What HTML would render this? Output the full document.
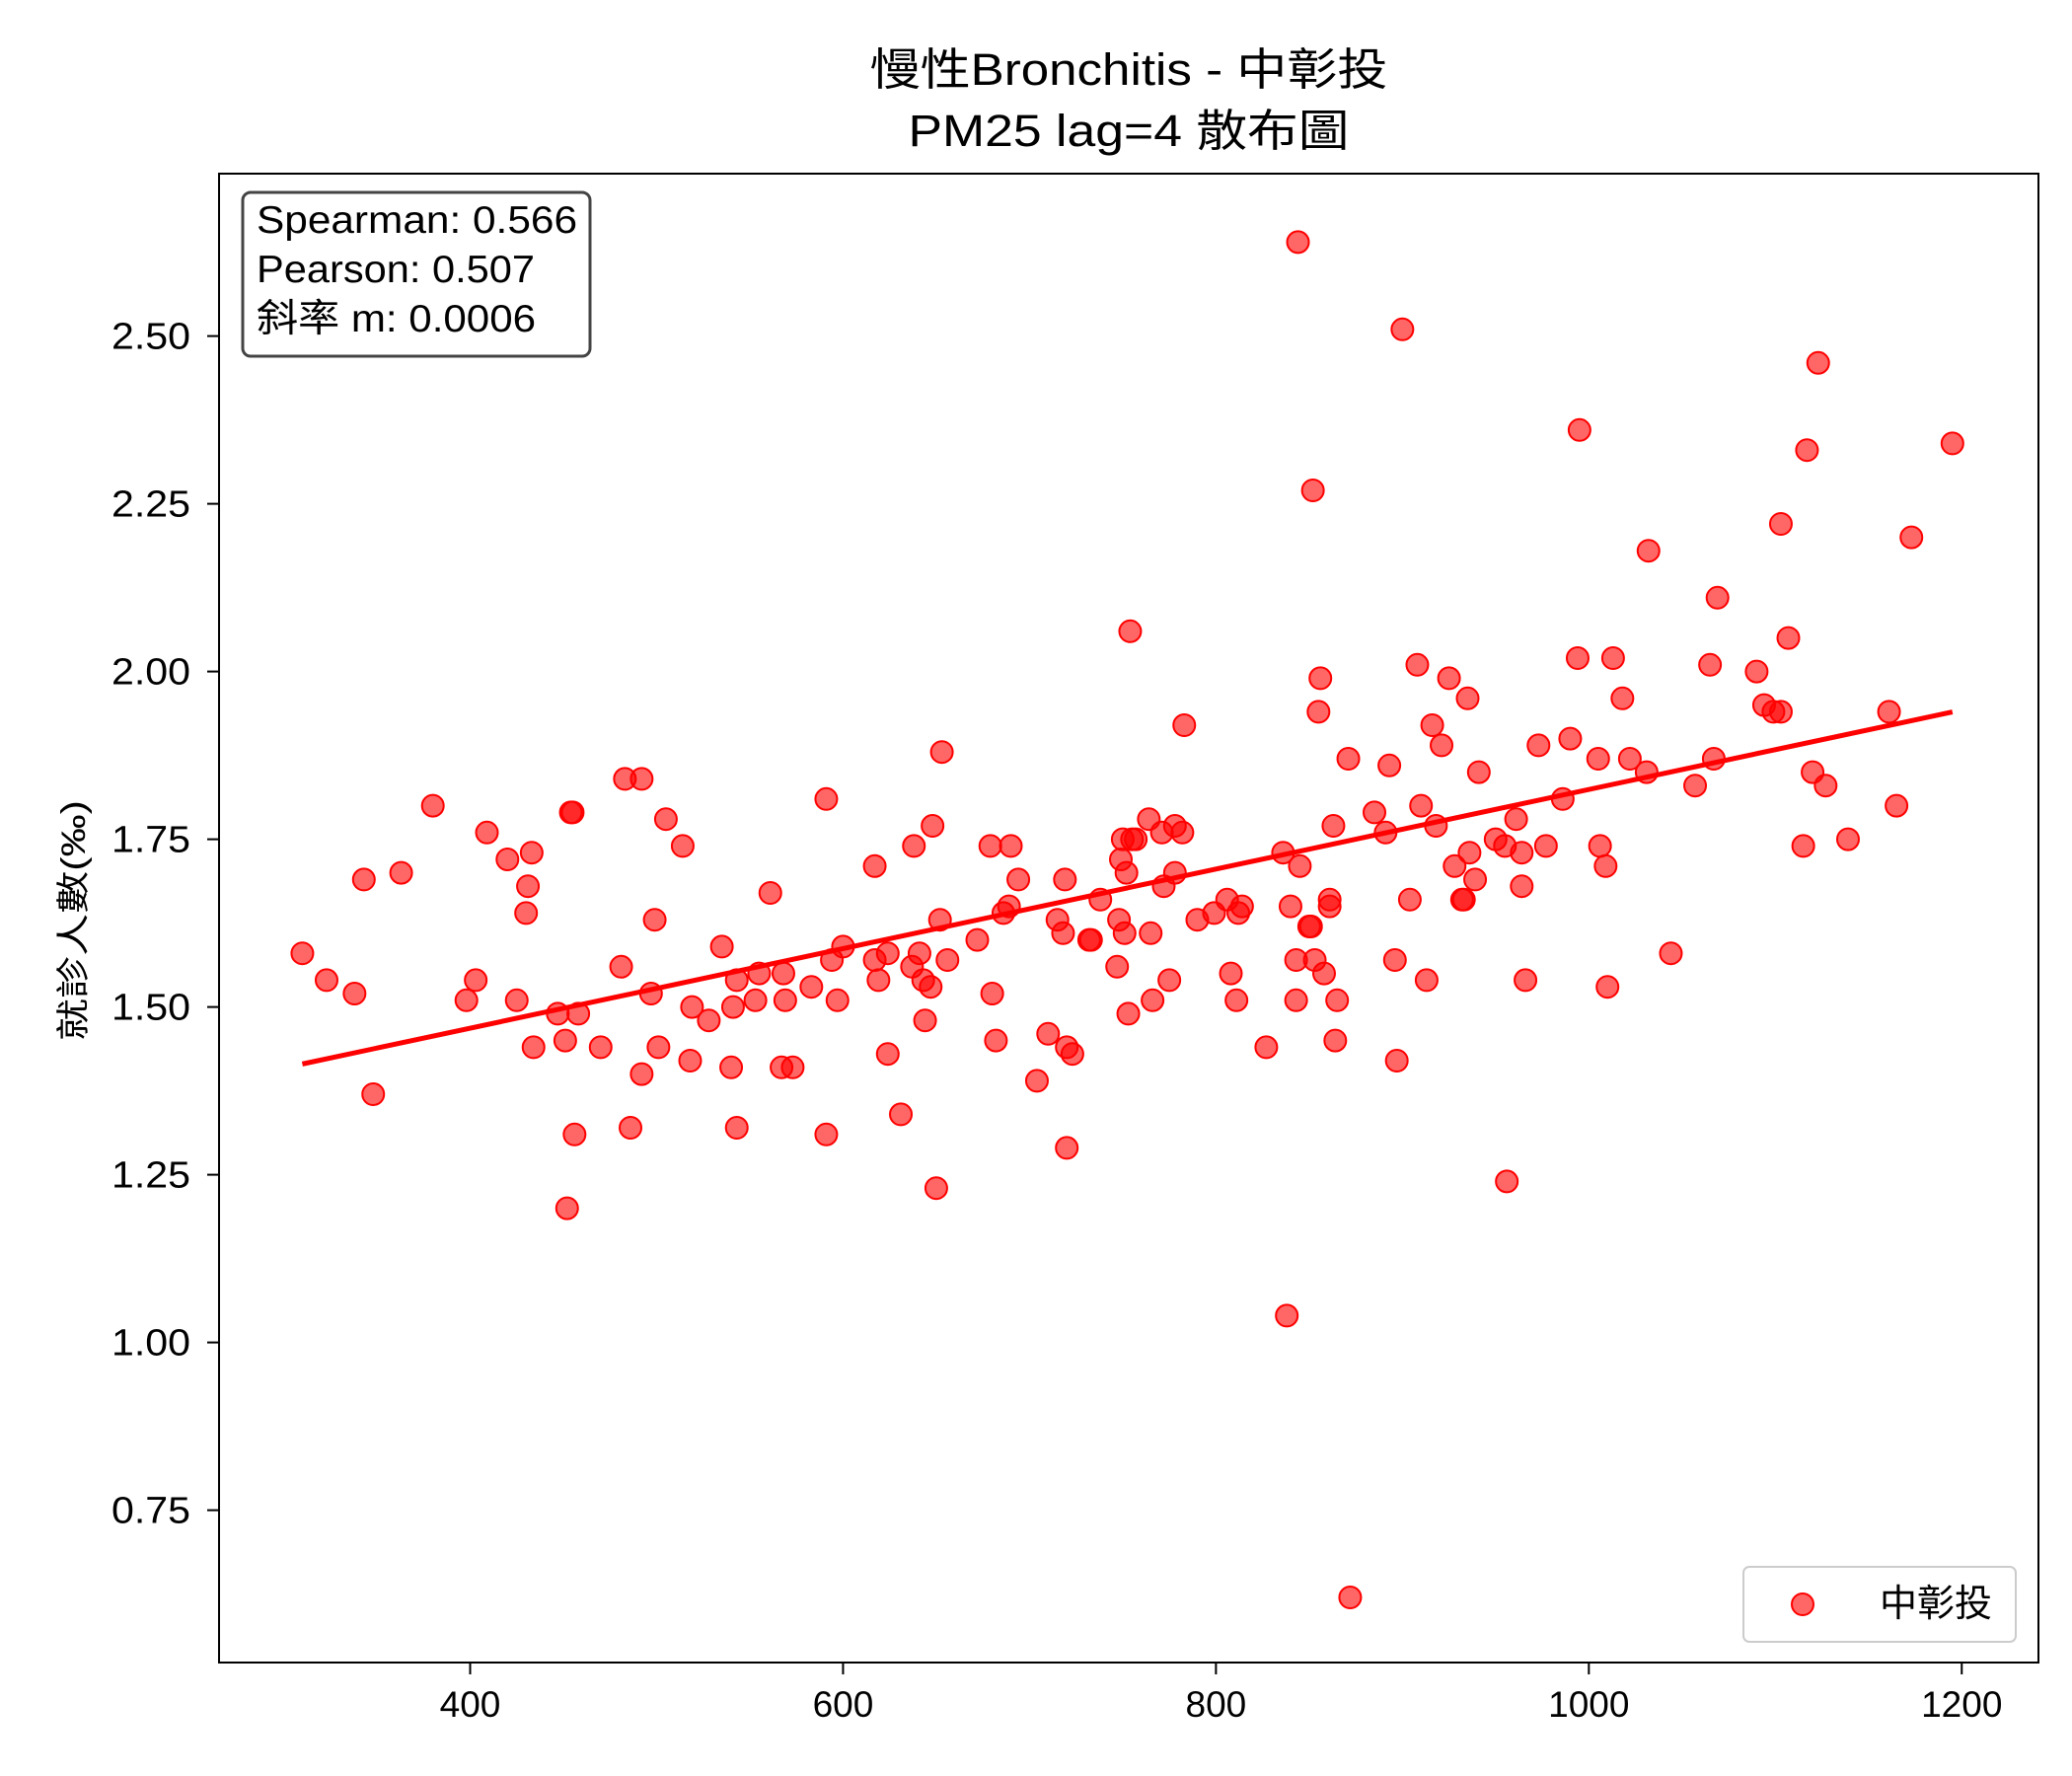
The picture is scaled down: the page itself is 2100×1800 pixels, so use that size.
<!DOCTYPE html>
<html><head><meta charset="utf-8"><style>
body{margin:0;background:#fff}
svg{display:block;font-family:"Liberation Sans","Noto Sans CJK TC",sans-serif}
</style></head><body>
<svg id="chart" width="2100" height="1800" viewBox="0 0 2100 1800" xmlns="http://www.w3.org/2000/svg">
<rect width="2100" height="1800" fill="#fff"/>
<text x="1144" y="86" font-size="45" text-anchor="middle" textLength="525" lengthAdjust="spacingAndGlyphs">慢性Bronchitis - 中彰投</text>
<text x="1144" y="148" font-size="45" text-anchor="middle" textLength="447" lengthAdjust="spacingAndGlyphs">PM25 lag=4 散布圖</text>
<g id="ticks"></g>
<g id="points"></g>
<line id="fit" stroke="#ff0000" stroke-width="5"/>
<rect x="222" y="176" width="1844" height="1509" fill="none" stroke="#000" stroke-width="2"/>
<text transform="translate(86,933) rotate(-90)" font-size="34" text-anchor="middle" textLength="244" lengthAdjust="spacingAndGlyphs">就診人數(‰)</text>
<g>
<rect x="246" y="195" width="352" height="166" rx="8" fill="#fff" stroke="#444" stroke-width="3"/>
<text x="260" y="236" font-size="39" textLength="325" lengthAdjust="spacingAndGlyphs">Spearman: 0.566</text>
<text x="260" y="286" font-size="39" textLength="282" lengthAdjust="spacingAndGlyphs">Pearson: 0.507</text>
<text x="260" y="336" font-size="39" textLength="283" lengthAdjust="spacingAndGlyphs">斜率 m: 0.0006</text>
</g>
<g>
<rect x="1767" y="1588" width="276" height="76" rx="6" fill="#fff" stroke="#ccc" stroke-width="2"/>
<circle cx="1827" cy="1626" r="11" fill="rgba(255,0,0,0.6)" stroke="#ff0000" stroke-width="2"/>
<text x="1905" y="1638" font-size="38">中彰投</text>
</g>
</svg>
<script>
const xs=[310,323,338,343,348,363,380,398,403,409,420,425,430,431,433,434,447,451,452,454,455,456,458,470,481,483,486,492,492,497,499,501,505,514,518,519,528,535,540,541,543,543,553,555,561,567,568,569,573,583,591,591,594,597,600,617,617,619,624,624,631,637,638,641,643,644,647,648,650,652,653,656,672,679,680,682,686,689,690,694,704,710,715,718,719,720,720,723,732,733,738,747,748,749,750,751,752,753,754,755,757,764,765,766,771,772,775,778,778,782,783,790,799,806,808,811,812,814,827,836,838,840,843,843,844,845,850,851,852,853,855,856,858,861,861,863,864,865,871,872,885,891,893,896,897,900,904,908,910,913,916,918,921,925,928,932,933,935,936,939,941,950,955,956,961,964,964,966,973,977,986,990,994,995,1005,1006,1009,1010,1013,1018,1022,1031,1032,1044,1057,1065,1067,1069,1090,1094,1099,1103,1103,1107,1115,1117,1120,1123,1127,1139,1161,1165,1173,1195];
const ys=[1.58,1.54,1.52,1.69,1.37,1.70,1.80,1.51,1.54,1.76,1.72,1.51,1.64,1.68,1.73,1.44,1.49,1.45,1.20,1.79,1.79,1.31,1.49,1.44,1.56,1.84,1.32,1.84,1.40,1.52,1.63,1.44,1.78,1.74,1.42,1.50,1.48,1.59,1.41,1.50,1.32,1.54,1.51,1.55,1.67,1.41,1.55,1.51,1.41,1.53,1.81,1.31,1.57,1.51,1.59,1.71,1.57,1.54,1.43,1.58,1.34,1.56,1.74,1.58,1.54,1.48,1.53,1.77,1.23,1.63,1.88,1.57,1.60,1.74,1.52,1.45,1.64,1.65,1.74,1.69,1.39,1.46,1.63,1.61,1.69,1.29,1.44,1.43,1.60,1.60,1.66,1.56,1.63,1.72,1.75,1.61,1.70,1.49,2.06,1.75,1.75,1.78,1.61,1.51,1.76,1.68,1.54,1.70,1.77,1.76,1.92,1.63,1.64,1.66,1.55,1.51,1.64,1.65,1.44,1.73,1.04,1.65,1.51,1.57,2.64,1.71,1.62,1.62,2.27,1.57,1.94,1.99,1.55,1.65,1.66,1.77,1.45,1.51,1.87,0.62,1.79,1.76,1.86,1.57,1.42,2.51,1.66,2.01,1.80,1.54,1.92,1.77,1.89,1.99,1.71,1.66,1.66,1.96,1.73,1.69,1.85,1.75,1.74,1.24,1.78,1.68,1.73,1.54,1.89,1.74,1.81,1.90,2.02,2.36,1.87,1.74,1.71,1.53,2.02,1.96,1.87,1.85,2.18,1.58,1.83,2.01,1.87,2.11,2.00,1.95,1.94,1.94,2.22,2.05,1.74,2.33,1.85,2.46,1.83,1.75,1.94,1.80,2.20,2.34];
const xTicks=[400,600,800,1000,1200];
const yTicks=[0.75,1.00,1.25,1.50,1.75,2.00,2.25,2.50];
const fitX=[310,1195];
const fitSlope=0.000593, fitIntercept=1.2312;
const X=v=>476.5+(v-400)*1.8897;
const Y=v=>340.6-(v-2.5)*680;
const NS='http://www.w3.org/2000/svg';
const tg=document.getElementById('ticks'), pg=document.getElementById('points');
function mk(t,a,p){const e=document.createElementNS(NS,t);for(const k in a)e.setAttribute(k,a[k]);p.appendChild(e);return e;}
xTicks.forEach(v=>{
 const l=mk('line',{x1:X(v),x2:X(v),y1:1685,y2:1697,stroke:'#000','stroke-width':2},tg);
 
 
 const t=mk('text',{x:X(v),y:1740,'font-size':37,'text-anchor':'middle'},tg);t.textContent=v;
 
 
});
yTicks.forEach(v=>{
 const l=mk('line',{x1:210,x2:222,y1:Y(v),y2:Y(v),stroke:'#000','stroke-width':2},tg);
 
 
 const t=mk('text',{x:193,y:Y(v)+13,'font-size':38,'text-anchor':'end','textLength':80,'lengthAdjust':'spacingAndGlyphs'},tg);t.textContent=v.toFixed(2);
 
 
});
xs.forEach((v,i)=>{
 const c=mk('circle',{cx:X(v),cy:Y(ys[i]),r:11,fill:'rgba(255,0,0,0.6)',stroke:'#ff0000','stroke-width':2},pg);
 
 
});
const f=document.getElementById('fit');
f.setAttribute('x1',X(fitX[0]));f.setAttribute('y1',Y(fitIntercept+fitSlope*fitX[0]));
f.setAttribute('x2',X(fitX[1]));f.setAttribute('y2',Y(fitIntercept+fitSlope*fitX[1]));
</script>
</body></html>
